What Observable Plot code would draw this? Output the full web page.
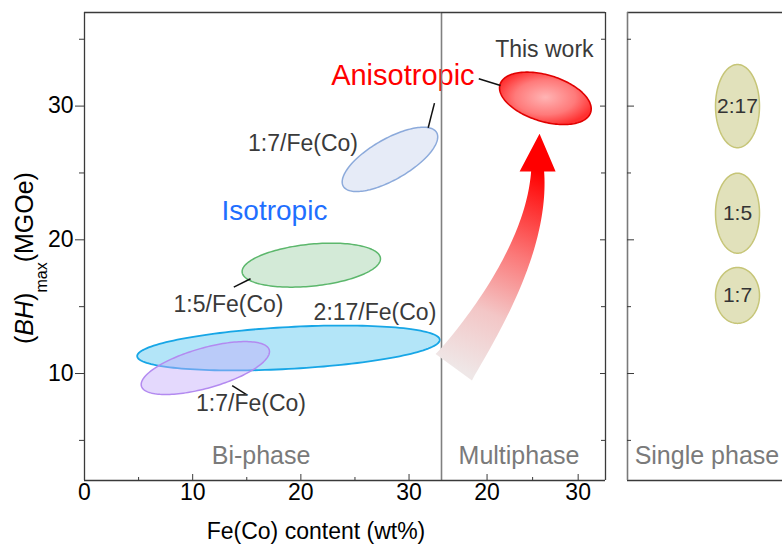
<!DOCTYPE html>
<html><head><meta charset="utf-8">
<script src="https://cdn.jsdelivr.net/npm/d3@7"></script>
<script src="https://cdn.jsdelivr.net/npm/@observablehq/plot@0.6"></script>
<style>
html,body{margin:0;padding:0;background:#fff;}
#chart{position:relative;width:782px;height:546px;overflow:hidden;font-family:"Liberation Sans",Arial,sans-serif;}
#chart svg{position:absolute;left:0;top:0;}
</style></head><body><div id="chart"></div>
<script>
// ---------------- data ----------------
const yDomain = [2, 37];            // (BH)max, MGOe
const biX = [0, 33];                // Fe(Co) wt%, bi-phase panel
const multiX = [15, 33];            // Fe(Co) wt%, multiphase panel
const singleX = [0, 1];             // single phase panel (no x values)
const yTicks = [10, 20, 30];
const yMinor = [5, 15, 25, 35];
const biTicks = [0, 10, 20, 30];
const biMinor = [5, 15, 25];
const multiTicks = [20, 30];
const multiMinor = [25];

// regions: Fe(Co) range, (BH)max range, tilt (correlation of the two)
const biRegions = [
  {id: "r217", x0: 4.87, x1: 32.84, y0: 10.23, y1: 13.59, tilt: 0.36},
  {id: "r17b", x0: 5.24, x1: 17.10, y0: 8.43, y1: 12.39, tilt: 0.62},
  {id: "r15",  x0: 14.57, x1: 27.36, y0: 16.46, y1: 19.75, tilt: 0.29},
  {id: "r17a", x0: 23.82, x1: 32.65, y0: 23.61, y1: 28.42, tilt: 0.70}
];
const multiRegions = [
  {id: "work", x0: 21.37, x1: 31.43, y0: 28.62, y1: 32.54, tilt: -0.40}
];
const singleNames = ["2:17", "1:5", "1:7"];
const singleLo = [26.89, 19.0, 13.75];
const singleHi = [33.11, 24.98, 17.93];

const biLabels = [
  {text: "1:7/Fe(Co)", x: 20.2, y: 27.17, kind: "note"},
  {text: "Isotropic", x: 17.56, y: 22.15, kind: "iso"},
  {text: "1:5/Fe(Co)", x: 13.31, y: 15.18, kind: "note"},
  {text: "2:17/Fe(Co)", x: 26.85, y: 14.56, kind: "note"},
  {text: "1:7/Fe(Co)", x: 15.39, y: 7.72, kind: "note"},
  {text: "Anisotropic", x: 29.43, y: 32.29, kind: "aniso"},
  {text: "Bi-phase", x: 16.32, y: 3.83, kind: "phase"}
];
const multiLabels = [
  {text: "This work", x: 26.29, y: 34.2, kind: "note"},
  {text: "Multiphase", x: 23.51, y: 3.83, kind: "phase"}
];
const singleLabels = [{text: "Single phase", x: 0.361, y: 3.83, kind: "phase"}];

const biLeaders = [
  {x1: 32.35, y1: 30.22, x2: 31.77, y2: 28.38},
  {x1: 13.8, y1: 16.46, x2: 15.35, y2: 17.09},
  {x1: 13.65, y1: 9.09, x2: 14.98, y2: 8.42}
];
const multiLeaders = [{x1: 19.09, y1: 32.04, x2: 21.48, y2: 31.54}];

// curved arrow (quadratic path) in multiphase-panel units
const arrowPath = [{x: 16.35, y: 10.47}, {x: 25.55, y: 19.05}, {x: 25.55, y: 25.11}];
const arrowTip = {x: 25.76, y: 27.93};

// ---------------- layout & styles ----------------
const W = 782, H = 546, TOP = 12, BOTTOM = 480, LEFT = 84, DIV = 441, RIGHT = 605, SLEFT = 627;
const FONT = "Liberation Sans, Arial, sans-serif";
const regionStyle = {
  r217: {fill: "#b3e5f8", stroke: "#17a6e6", strokeWidth: 1.8},
  r17b: {fill: "#c4aafa", fillOpacity: 0.45, stroke: "#b38af0", strokeWidth: 1.5},
  r15:  {fill: "#d3ead7", stroke: "#5cb76c", strokeWidth: 1.5},
  r17a: {fill: "#e6ebf7", stroke: "#8caadb", strokeWidth: 1.5},
  work: {fill: "url(#workGrad)", stroke: "#e00000", strokeWidth: 1.6},
  single: {fill: "#e1e1bb", stroke: "#c6c577", strokeWidth: 1.5}
};
const textStyle = {
  note: {fill: "#3a3a3a", fontSize: 23},
  iso: {fill: "#1f6fff", fontSize: 28},
  aniso: {fill: "#ff0000", fontSize: 29},
  phase: {fill: "#7a7a7a", fontSize: 25}
};
const frameColor = "#3a3a3a";
const TICKFONT = 23;

function ellipse(r, n = 160) {
  const cx = (r.x0 + r.x1) / 2, cy = (r.y0 + r.y1) / 2;
  const rx = (r.x1 - r.x0) / 2, ry = (r.y1 - r.y0) / 2;
  const s = Math.sqrt(1 - r.tilt * r.tilt);
  return d3.range(n).map(i => {
    const t = 2 * Math.PI * i / n;
    return {x: cx + rx * Math.cos(t), y: cy + ry * (r.tilt * Math.cos(t) + s * Math.sin(t))};
  });
}
function regionMarks(regions) {
  return regions.map(r => Plot.line(ellipse(r), {x: "x", y: "y", curve: "linear-closed", ...regionStyle[r.id]}));
}
function labelMarks(labels) {
  return Object.keys(textStyle).map(k =>
    Plot.text(labels.filter(d => d.kind === k), {x: "x", y: "y", text: "text", ...textStyle[k]}));
}
const baseStyle = {fontFamily: FONT, background: "transparent", overflow: "visible", maxWidth: "none"};

// arrow outline computed along the path, then expressed in data units
const sxB = d3.scaleLinear(multiX, [DIV, RIGHT]), syB = d3.scaleLinear(yDomain, [BOTTOM, TOP]);
function arrowPolygon() {
  const P = arrowPath.map(p => [sxB(p.x), syB(p.y)]);
  const tip = [sxB(arrowTip.x), syB(arrowTip.y)];
  const n = 48, w0 = 22.5, w1 = 6.5, head = 18;
  const L = [], R = [];
  let last;
  for (let i = 0; i <= n; i++) {
    const t = i / n, u = 1 - t;
    const bx = u*u*P[0][0] + 2*u*t*P[1][0] + t*t*P[2][0];
    const by = u*u*P[0][1] + 2*u*t*P[1][1] + t*t*P[2][1];
    const dx = 2*u*(P[1][0]-P[0][0]) + 2*t*(P[2][0]-P[1][0]);
    const dy = 2*u*(P[1][1]-P[0][1]) + 2*t*(P[2][1]-P[1][1]);
    const len = Math.hypot(dx, dy), nx = -dy/len, ny = dx/len;
    const w = w0 + (w1 - w0) * Math.pow(t, 0.75);
    L.push([bx + nx*w, by + ny*w]); R.push([bx - nx*w, by - ny*w]);
    last = {bx, by, nx, ny};
  }
  const hl = [last.bx + last.nx*head, last.by + last.ny*head];
  const hr = [last.bx - last.nx*head, last.by - last.ny*head];
  const poly = [...L, hl, tip, hr, ...R.reverse()];
  return {poly: poly.map(([px, py]) => ({x: sxB.invert(px), y: syB.invert(py)})), P, tip};
}
const arrow = arrowPolygon();

// ---------------- panel A: bi-phase ----------------
const chartA = Plot.plot({
  width: W, height: H, marginTop: TOP, marginBottom: H - BOTTOM, marginLeft: LEFT, marginRight: W - DIV,
  x: {domain: biX}, y: {domain: yDomain},
  style: baseStyle,
  marks: [
    ...regionMarks(biRegions),
    Plot.link(biLeaders, {x1: "x1", y1: "y1", x2: "x2", y2: "y2", stroke: "#111", strokeWidth: 1.5}),
    ...labelMarks(biLabels),
    Plot.ruleY(yDomain, {stroke: frameColor, strokeWidth: 1.3}),
    Plot.ruleX([biX[0]], {stroke: frameColor, strokeWidth: 1.3}),
    Plot.ruleX([biX[1]], {stroke: "#808080", strokeWidth: 1.6}),
    Plot.tickX(biTicks, {x: d => d, insetTop: (BOTTOM - TOP) - 6, stroke: frameColor}),
    Plot.tickX(biMinor, {x: d => d, insetTop: (BOTTOM - TOP) - 3, stroke: frameColor}),
    Plot.axisX(biTicks, {tickSize: 0, tickPadding: 3, fontSize: TICKFONT, label: null, fill: "#000"}),
    Plot.axisY(yTicks, {tickSize: 9, tickPadding: 2, fontSize: TICKFONT, label: null, stroke: frameColor, fill: "#000"}),
    Plot.axisY(yMinor, {tickSize: 5, text: null, label: null, stroke: frameColor})
  ]
});

// ---------------- panel B: multiphase ----------------
const chartB = Plot.plot({
  width: W, height: H, marginTop: TOP, marginBottom: H - BOTTOM, marginLeft: DIV, marginRight: W - RIGHT,
  x: {domain: multiX}, y: {domain: yDomain, axis: null},
  style: baseStyle,
  marks: [
    Plot.line(arrow.poly, {x: "x", y: "y", curve: "linear-closed", fill: "url(#arrowGrad)", stroke: "none"}),
    ...regionMarks(multiRegions),
    Plot.link(multiLeaders, {x1: "x1", y1: "y1", x2: "x2", y2: "y2", stroke: "#111", strokeWidth: 1.5}),
    ...labelMarks(multiLabels),
    Plot.ruleY(yDomain, {stroke: frameColor, strokeWidth: 1.3}),
    Plot.ruleX([multiX[1]], {stroke: frameColor, strokeWidth: 1.3}),
    Plot.tickX(multiTicks, {x: d => d, insetTop: (BOTTOM - TOP) - 6, stroke: frameColor}),
    Plot.tickX(multiMinor, {x: d => d, insetTop: (BOTTOM - TOP) - 3, stroke: frameColor}),
    Plot.tickY(yTicks, {y: d => d, insetLeft: (RIGHT - DIV) - 5, stroke: frameColor}),
    Plot.tickY(yMinor, {y: d => d, insetLeft: (RIGHT - DIV) - 4, stroke: frameColor}),
    Plot.axisX(multiTicks, {tickSize: 0, tickPadding: 3, fontSize: TICKFONT, label: null, fill: "#000"})
  ]
});

// ---------------- panel C: single phase ----------------
const singleRegions = singleNames.map((name, i) => ({id: "single", name, x0: 0.4, x1: 0.6, y0: singleLo[i], y1: singleHi[i], tilt: 0}));
const CW = 900;
const chartC = Plot.plot({
  width: CW, height: H, marginTop: TOP, marginBottom: H - BOTTOM, marginLeft: SLEFT, marginRight: CW - (SLEFT + 220),
  x: {domain: singleX, axis: null}, y: {domain: yDomain, axis: null},
  style: baseStyle,
  marks: [
    ...regionMarks(singleRegions),
    Plot.text(singleRegions, {x: d => (d.x0 + d.x1) / 2, y: d => (d.y0 + d.y1) / 2, text: "name", fontSize: 21, fill: "#333"}),
    ...labelMarks(singleLabels),
    Plot.ruleY(yDomain, {stroke: frameColor, strokeWidth: 1.3}),
    Plot.ruleX([singleX[0]], {stroke: "#7a7a7a", strokeWidth: 1.6}),
    Plot.tickY(yTicks, {y: d => d, insetRight: 220 - 7, stroke: frameColor}),
    Plot.tickY(yMinor, {y: d => d, insetRight: 220 - 4, stroke: frameColor})
  ]
});

// gradients
const P = arrow.P;
d3.select(chartB).insert("defs", ":first-child").html(`
  <radialGradient id="workGrad" cx="50%" cy="48%" r="55%">
    <stop offset="0" stop-color="#ffb4b4"/><stop offset="0.6" stop-color="#ff7a7a"/><stop offset="1" stop-color="#ff3030"/>
  </radialGradient>
  <linearGradient id="arrowGrad" gradientUnits="userSpaceOnUse" x1="${P[0][0]}" y1="${P[0][1]}" x2="${P[2][0]}" y2="${P[2][1]}">
    <stop offset="0" stop-color="#efe7e7"/><stop offset="0.3" stop-color="#f3c6c6"/>
    <stop offset="0.6" stop-color="#fb7878"/><stop offset="0.9" stop-color="#ff1e1e"/><stop offset="1" stop-color="#ff0000"/>
  </linearGradient>`);

// axis titles
const ga = d3.select(chartA).append("g").attr("font-family", FONT);
ga.append("text").attr("x", 316).attr("y", 539).attr("text-anchor", "middle").attr("font-size", 23).attr("fill", "#000")
  .text("Fe(Co) content (wt%)");
const yl = ga.append("text").attr("transform", `translate(33,${(TOP + BOTTOM) / 2 + 12}) rotate(-90)`)
  .attr("text-anchor", "middle").attr("font-size", 25).attr("fill", "#000");
yl.append("tspan").text("(");
yl.append("tspan").attr("font-style", "italic").text("BH");
yl.append("tspan").text(")");
yl.append("tspan").attr("font-size", 16).attr("dy", 14).text("max");
yl.append("tspan").attr("dy", -14).text("(MGOe)");

const root = document.getElementById("chart");
root.append(chartA, chartB, chartC);
</script></body></html>
